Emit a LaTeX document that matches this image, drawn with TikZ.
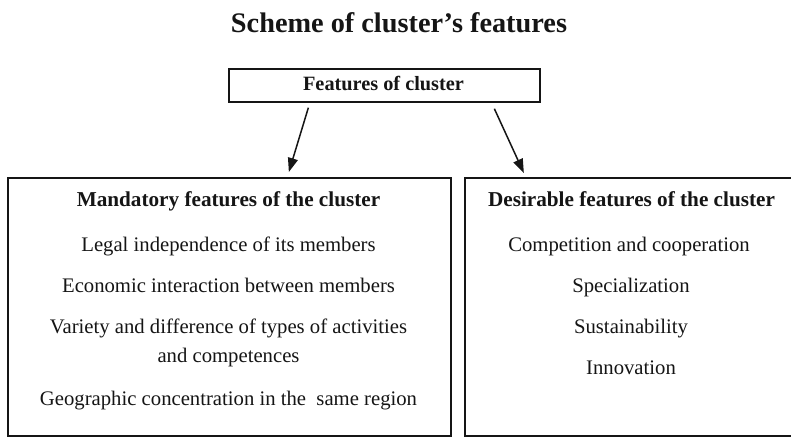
\documentclass[tikz,border=0pt]{standalone}
\usepackage{fontspec}
\setmainfont{Liberation Serif}
\usetikzlibrary{arrows.meta,calc}
\definecolor{ink}{HTML}{151515}
\begin{document}
\begin{tikzpicture}[x=1pt,y=-1pt,
  framebox/.style={draw=ink, line width=1.7pt, inner sep=0pt, anchor=north west},
  titletext/.style={font=\fontsize{28.3}{32}\selectfont\bfseries, text=ink, anchor=base, inner sep=0pt},
  boxtext/.style={font=\fontsize{20.3}{24}\selectfont\bfseries, text=ink, anchor=base, inner sep=0pt},
  headtext/.style={font=\fontsize{21.2}{24}\selectfont\bfseries, text=ink, anchor=base, inner sep=0pt},
  itemtext/.style={font=\fontsize{20.7}{24}\selectfont, text=ink, anchor=base, inner sep=0pt},
  arr/.style={draw=ink, line width=1.5pt, -{Triangle[length=14pt,width=10pt]}}]
\useasboundingbox (0,0) rectangle (791,437);
\fill[white] (0,0) rectangle (791,437);

% title
\node[titletext] (title) at (399,32) {Scheme of cluster's features};

% boxes
\node[framebox, minimum width=311pt, minimum height=33pt] (top) at (228,68) {};
\node[framebox, minimum width=443pt, minimum height=258pt] (left) at (7,177) {};
\node[framebox, minimum width=334pt, minimum height=258pt] (right) at (464,177) {};

% top box text
\node[boxtext] (toptext) at (383.5,90) {Features of cluster};

% left box texts
\node[headtext] (lhead) at (228.5,206) {Mandatory features of the cluster};
\node[itemtext] (l1) at (228.5,251) {Legal independence of its members};
\node[itemtext] (l2) at (228.5,292) {Economic interaction between members};
\node[itemtext] (l3) at (228.5,333) {Variety and difference of types of activities};
\node[itemtext] (l3b) at (228.5,362) {and competences};
\node[itemtext] (l4) at (228.5,405) {Geographic concentration in the\ \ same region};

% right box texts
\node[headtext] (rhead) at (631.5,206) {Desirable features of the cluster};
\node[itemtext] (r1) at (629,251) {Competition and cooperation};
\node[itemtext] (r2) at (631,292) {Specialization};
\node[itemtext] (r3) at (631,333) {Sustainability};
\node[itemtext] (r4) at (631,374) {Innovation};

% arrows
\draw[arr] ($(top.south)+(-76,5)$) -- ($(left.north)+(59.5,-5)$);
\draw[arr] ($(top.south)+(110,6)$) -- ($(right.north)+(-108,-4)$);
\end{tikzpicture}
\end{document}
